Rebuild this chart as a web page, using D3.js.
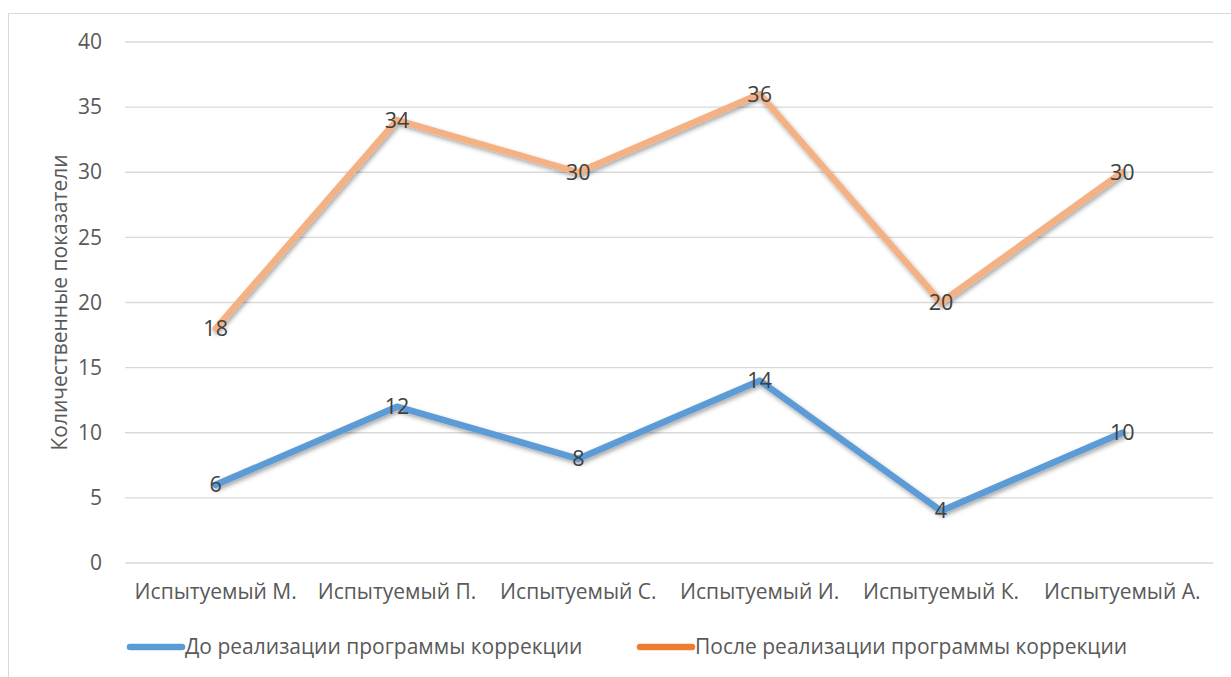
<!DOCTYPE html>
<html><head><meta charset="utf-8">
<script src="https://cdn.jsdelivr.net/npm/d3@7"></script>
<style>body{margin:0;background:#fff;} svg{display:block;}</style>
</head><body>
<svg id="c" width="1231" height="677"></svg>
<script>
const categories = ["Испытуемый М.","Испытуемый П.","Испытуемый С.","Испытуемый И.","Испытуемый К.","Испытуемый А."];
const before = [6,12,8,14,4,10];
const after = [18,34,30,36,20,30];
const seriesNames = ["До реализации программы коррекции","После реализации программы коррекции"];
const yTicks = [0,5,10,15,20,25,30,35,40];
const axisTitle = "Количественные показатели";

(function(){
const svg = d3.select("#c");
const font = "'Open Sans', 'Noto Sans', sans-serif";
const fs = "21px";
const defs = svg.append("defs");
const f = defs.append("filter").attr("id","sh").attr("x","-10%").attr("y","-10%").attr("width","120%").attr("height","130%");
f.append("feDropShadow").attr("dx",1.5).attr("dy",2.5).attr("stdDeviation",2).attr("flood-color","#000").attr("flood-opacity",0.35);

svg.append("rect").attr("x",8.5).attr("y",13.5).attr("width",1240).attr("height",700)
  .attr("fill","#fff").attr("stroke","#d9d9d9").attr("stroke-width",1);

const pL=125,pR=1213,pT=42,pB=563;
const x = d3.scaleBand().domain(categories).range([pL,pR]);
const y = d3.scaleLinear().domain([0,40]).range([pB,pT]);

svg.append("g").selectAll("line").data(yTicks).join("line")
  .attr("x1",pL).attr("x2",pR).attr("y1",d=>y(d)).attr("y2",d=>y(d))
  .attr("stroke","#d9d9d9").attr("stroke-width",1.3);

const ya = svg.append("g").attr("transform",`translate(${pL},0)`)
  .call(d3.axisLeft(y).tickValues(yTicks).tickSize(0).tickPadding(23));
ya.select(".domain").remove();
ya.selectAll("text").attr("fill","#595959").style("font-family",font).style("font-size",fs);

const xa = svg.append("g").attr("transform",`translate(0,${pB})`)
  .call(d3.axisBottom(x).tickSize(0).tickPadding(21));
xa.select(".domain").remove();
xa.selectAll("text").attr("fill","#595959").style("font-family",font).style("font-size",fs);

svg.append("text").attr("transform",`translate(67,${(pT+pB)/2}) rotate(-90)`)
  .attr("text-anchor","middle").attr("fill","#595959").style("font-family",font).style("font-size",fs)
  .text(axisTitle);

const cx = d => x(d)+x.bandwidth()/2;
const line = d3.line().x((d,i)=>cx(categories[i])).y(d=>y(d));
const colors = ["#5B9BD5","#F4B183"];
const legendColors = ["#5B9BD5","#ED7D31"];
[before,after].forEach((s,k)=>{
  svg.append("path").datum(s).attr("d",line).attr("fill","none")
    .attr("stroke",colors[k]).attr("stroke-width",6.5).attr("stroke-linejoin","round").attr("stroke-linecap","round")
    .attr("filter","url(#sh)");
});
[before,after].forEach((s,k)=>{
  svg.append("g").selectAll("text").data(s).join("text")
    .attr("x",(d,i)=>cx(categories[i])).attr("y",d=>y(d)).attr("dy","0.35em")
    .attr("text-anchor","middle").attr("fill","#404040").style("font-family",font).style("font-size","21.5px")
    .text(d=>d);
});

const lg = [{x:128},{x:638}];
seriesNames.forEach((n,k)=>{
  const g = svg.append("g").attr("transform",`translate(${lg[k].x},647)`);
  g.append("line").attr("x1",2).attr("x2",54).attr("y1",0).attr("y2",0)
    .attr("stroke",legendColors[k]).attr("stroke-width",6.5).attr("stroke-linecap","round");
  g.append("text").attr("x",57).attr("dy","0.35em").attr("fill","#595959")
    .style("font-family",font).style("font-size",fs).text(n);
});
})();
</script>
</body></html>
